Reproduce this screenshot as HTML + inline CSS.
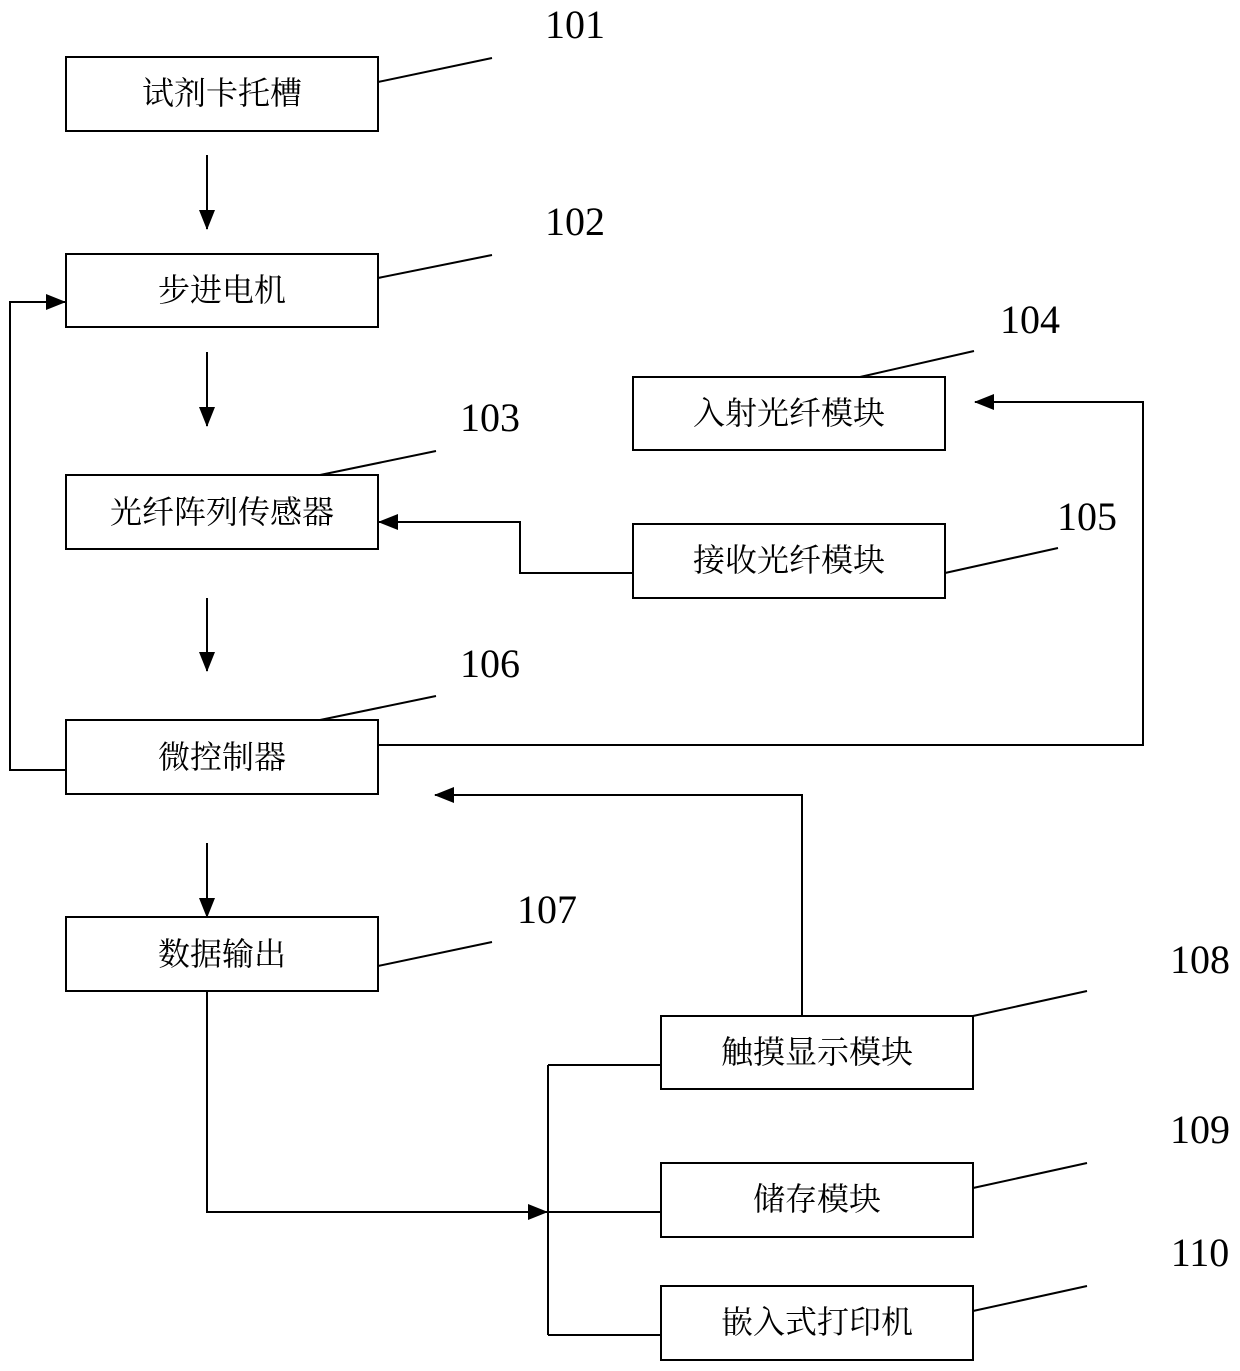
<!DOCTYPE html>
<html><head><meta charset="utf-8"><style>
html,body{margin:0;padding:0;background:#fff;}
svg{display:block;}
.t{font-family:"Liberation Serif","Noto Serif CJK SC",serif;font-size:32px;fill:#000;text-anchor:middle;}
.n{font-family:"Liberation Serif",serif;font-size:40px;fill:#000;text-anchor:middle;}
</style></head><body>
<svg width="1240" height="1371" viewBox="0 0 1240 1371" xmlns="http://www.w3.org/2000/svg">
<defs>
<marker id="b" markerWidth="20" markerHeight="16" refX="19" refY="8" orient="auto" markerUnits="userSpaceOnUse" viewBox="0 0 20 16"><path d="M0,0 L20,8 L0,16 z" fill="#000"/></marker></defs>
<g fill="none" stroke="#000" stroke-width="2">
<rect x="66" y="57" width="312" height="74"/>
<rect x="66" y="254" width="312" height="73"/>
<rect x="66" y="475" width="312" height="74"/>
<rect x="633" y="377" width="312" height="73"/>
<rect x="633" y="524" width="312" height="74"/>
<rect x="66" y="720" width="312" height="74"/>
<rect x="66" y="917" width="312" height="74"/>
<rect x="661" y="1016" width="312" height="73"/>
<rect x="661" y="1163" width="312" height="74"/>
<rect x="661" y="1286" width="312" height="74"/>
<line x1="378" y1="82" x2="492" y2="58"/>
<line x1="378" y1="278" x2="492" y2="255"/>
<line x1="320" y1="475" x2="436" y2="451"/>
<line x1="860" y1="377" x2="974" y2="351"/>
<line x1="945" y1="573" x2="1058" y2="548"/>
<line x1="320" y1="720" x2="436" y2="696"/>
<line x1="378" y1="966" x2="492" y2="942"/>
<line x1="973" y1="1016" x2="1087" y2="991"/>
<line x1="973" y1="1188" x2="1087" y2="1163"/>
<line x1="973" y1="1311" x2="1087" y2="1286"/>
<line x1="207" y1="155" x2="207" y2="229" marker-end="url(#b)"/>
<line x1="207" y1="352" x2="207" y2="426" marker-end="url(#b)"/>
<line x1="207" y1="598" x2="207" y2="671" marker-end="url(#b)"/>
<line x1="207" y1="843" x2="207" y2="917" marker-end="url(#b)"/>
<polyline points="633,573 520,573 520,522 379,522" marker-end="url(#b)"/>
<polyline points="66,770 10,770 10,302 65,302" marker-end="url(#b)"/>
<polyline points="378,745 1143,745 1143,402 975,402" marker-end="url(#b)"/>
<polyline points="802,1016 802,795 435,795" marker-end="url(#b)"/>
<polyline points="207,991 207,1212 547,1212" marker-end="url(#b)"/>
<line x1="548" y1="1065" x2="548" y2="1335"/>
<line x1="548" y1="1065" x2="661" y2="1065"/>
<line x1="548" y1="1212" x2="661" y2="1212"/>
<line x1="548" y1="1335" x2="661" y2="1335"/>
</g>
<text class="t" x="222" y="104">试剂卡托槽</text>
<text class="t" x="222" y="301">步进电机</text>
<text class="t" x="222" y="523">光纤阵列传感器</text>
<text class="t" x="789" y="424">入射光纤模块</text>
<text class="t" x="789" y="571">接收光纤模块</text>
<text class="t" x="222" y="768">微控制器</text>
<text class="t" x="222" y="965">数据输出</text>
<text class="t" x="817" y="1063">触摸显示模块</text>
<text class="t" x="817" y="1210">储存模块</text>
<text class="t" x="817" y="1333">嵌入式打印机</text>
<text class="n" x="575" y="38">101</text>
<text class="n" x="575" y="235">102</text>
<text class="n" x="490" y="431">103</text>
<text class="n" x="1030" y="333">104</text>
<text class="n" x="1087" y="530">105</text>
<text class="n" x="490" y="677">106</text>
<text class="n" x="547" y="923">107</text>
<text class="n" x="1200" y="973">108</text>
<text class="n" x="1200" y="1143">109</text>
<text class="n" x="1200" y="1266">110</text>
</svg>
</body></html>
